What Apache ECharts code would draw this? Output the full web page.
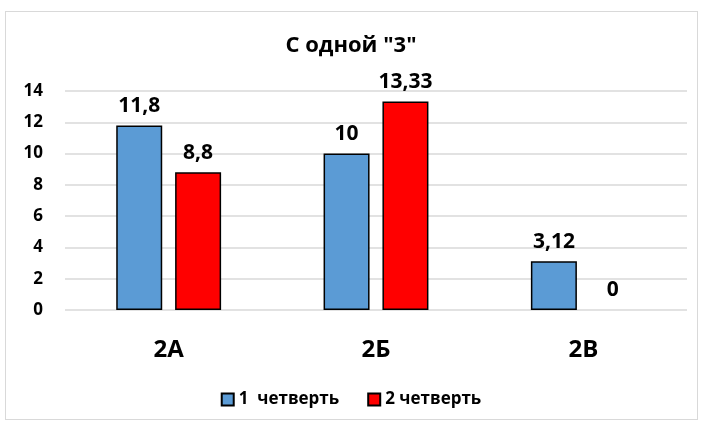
<!DOCTYPE html>
<html>
<head>
<meta charset="utf-8">
<script src="https://cdn.jsdelivr.net/npm/echarts@6/dist/echarts.min.js"></script>
<style>
  html, body { margin: 0; padding: 0; background: #fff; }
  #frame {
    position: absolute; left: 5px; top: 11px; width: 693px; height: 409px;
    border: 1px solid #d9d9d9; box-sizing: border-box;
  }
  #chart { position: absolute; left: 0; top: 0; width: 702px; height: 428px; }
</style>
</head>
<body>
<div id="frame"></div>
<div id="chart"></div>
<script>
const categories = ["2А", "2Б", "2В"];
const quarter1 = [11.8, 10, 3.12];
const quarter2 = [8.8, 13.33, 0];
const seriesNames = ["1  четверть", "2 четверть"];
const titleText = 'С одной "3"';

const font = '"Open Sans", "Noto Sans", sans-serif';

const chart = echarts.init(document.getElementById("chart"));

function fmt(p) {
  return String(p.value).replace(".", ",");
}

// zero bars have no visible outline in the original
function toItems(arr) {
  return arr.map((v) => (v === 0 ? { value: v, itemStyle: { borderWidth: 0, color: "rgba(0,0,0,0)" } } : v));
}

const labelStyle = {
  show: true,
  position: "top",
  distance: 9,
  formatter: fmt,
  color: "#000",
  fontFamily: font,
  fontWeight: "bold",
  fontSize: 21,
};

chart.setOption({
  animation: false,
  title: {
    text: titleText,
    left: "center",
    top: 30,
    textStyle: { fontFamily: font, fontWeight: "bold", fontSize: 22, color: "#000" },
  },
  legend: {
    data: seriesNames,
    bottom: 15,
    left: "center",
    itemWidth: 12,
    itemHeight: 12,
    itemGap: 28,
    icon: "rect",
    textStyle: { fontFamily: font, fontWeight: "bold", fontSize: 17, color: "#000" },
  },
  grid: { left: 65, right: 15, top: 91, bottom: 118 },
  xAxis: {
    type: "category",
    data: categories,
    axisLine: { show: false },
    axisTick: { show: false },
    axisLabel: { margin: 28, color: "#000", fontFamily: font, fontWeight: "bold", fontSize: 24 },
  },
  yAxis: {
    type: "value",
    min: 0,
    max: 14,
    interval: 2,
    axisLine: { show: false },
    axisTick: { show: false },
    axisLabel: { margin: 22, color: "#000", fontFamily: font, fontWeight: "bold", fontSize: 17 },
    splitLine: { lineStyle: { color: "#d9d9d9", width: 1.5 } },
  },
  series: [
    {
      name: seriesNames[0],
      type: "bar",
      data: toItems(quarter1),
      barWidth: 46,
      barGap: "28%",
      itemStyle: { color: "#5b9bd5", borderColor: "#000", borderWidth: 1.5 },
      label: labelStyle,
    },
    {
      name: seriesNames[1],
      type: "bar",
      data: toItems(quarter2),
      barWidth: 46,
      itemStyle: { color: "#ff0000", borderColor: "#000", borderWidth: 1.5 },
      label: labelStyle,
    },
  ],
});
</script>
</body>
</html>
